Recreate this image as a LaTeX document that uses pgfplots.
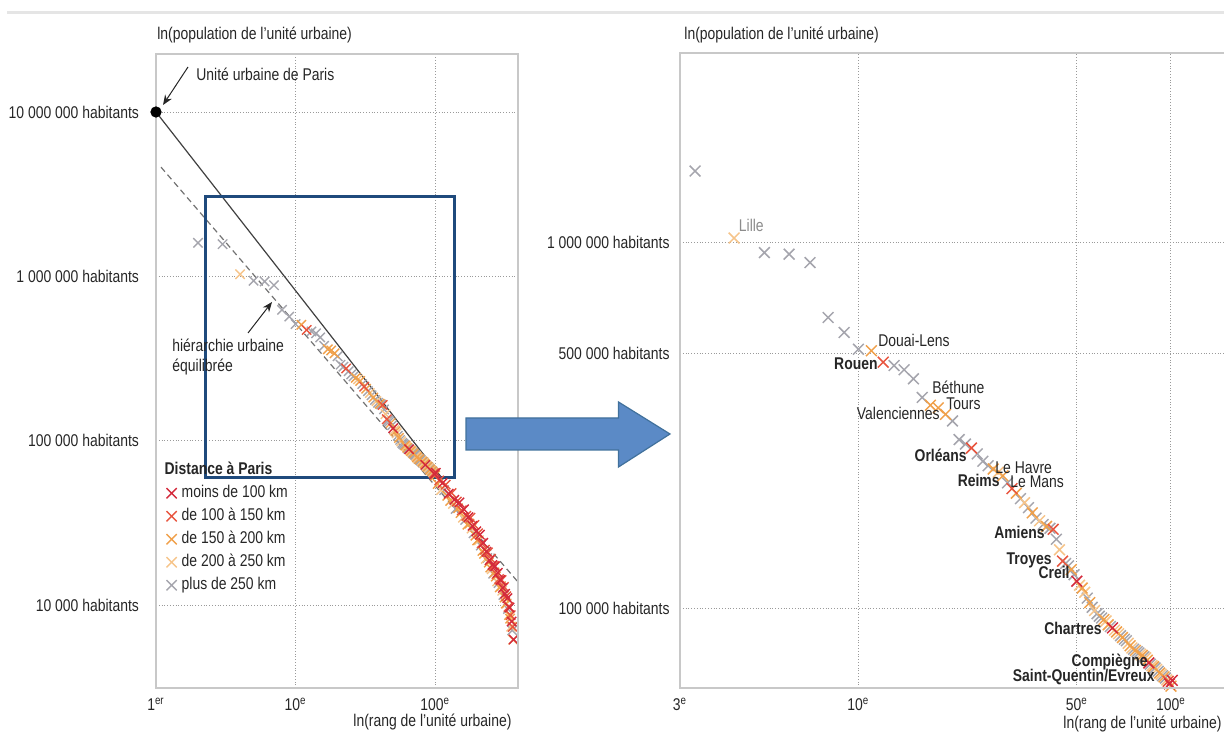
\documentclass[border=0pt]{standalone}
\usepackage{pgfplots}
\pgfplotsset{compat=1.18}
\usepackage{pgfplotstable}
\usetikzlibrary{arrows.meta}
\usepackage{fontspec}
\setmainfont{Liberation Sans}[FakeStretch=0.82]
\definecolor{cA}{HTML}{D42A3C}
\definecolor{cB}{HTML}{E8553F}
\definecolor{cC}{HTML}{F0A04A}
\definecolor{cD}{HTML}{F6C48A}
\definecolor{cE}{HTML}{A5A5AD}
\definecolor{axgray}{HTML}{C8C8C8}
\definecolor{gridgray}{HTML}{9A9A9A}
\definecolor{boxblue}{HTML}{1F4A7C}
\definecolor{arrowfill}{HTML}{5B8AC6}
\definecolor{arrowdraw}{HTML}{41719C}
\definecolor{txt}{HTML}{262626}
\newcommand{\fs}{\fontsize{8.5pt}{10pt}\selectfont}

% moins de 100 km
\pgfplotstableread{
rank pop
50 119000
65 88700
85 71200
99 62400
101 63800
113 55200
125 47600
137 43700
149 42100
161 38200
173 34200
185 30300
197 28100
209 26800
221 23900
233 21100
245 18700
257 17500
269 17200
281 15700
293 14200
305 12700
317 11700
329 11000
341 9660
353 7930
365 6170
}\tabA
% de 100 a 150 km
\pgfplotstableread{
rank pop
12 472000
23 275000
31 213000
42 165000
45 135000
98 63400
107 57300
119 54000
131 48000
143 42600
155 37700
167 34900
179 34000
191 30700
203 27300
215 23700
227 21700
239 20900
251 19100
263 17300
275 15400
287 14400
299 14200
311 12900
323 11300
335 9730
347 8670
359 7360
}\tabB
% de 150 a 200 km
\pgfplotstableread{
rank pop
11 507000
17 360000
18 354000
19 340000
27 241000
29 231000
32 207000
36 183000
40 168000
48 128000
52 114000
55 104000
61 93500
63 90500
67 86500
70 83500
74 79300
77 77000
81 74600
84 72400
88 69500
92 66800
95 65200
100 61500
104 54500
122 46200
128 42900
146 38800
152 36300
170 30800
176 31300
194 26400
200 24700
218 21300
224 20500
242 18100
248 16900
266 15800
272 14900
290 12800
296 13000
314 11100
320 10200
338 8690
344 8260
362 6140
}\tabC
% de 200 a 250 km
\pgfplotstableread{
rank pop
4 1030000
28 236000
34 195000
38 174000
44 145000
51 116000
53 111000
57 99000
62 92700
66 87500
68 85500
73 80500
75 78200
80 75200
83 73500
87 70000
90 68300
93 66300
97 64000
110 50000
134 41200
158 34000
182 29200
206 24800
230 19100
254 16500
278 13900
302 12200
326 10200
350 7380
}\tabD
% plus de 250 km
\pgfplotstableread{
rank pop
2 1600000
3 1570000
5 940000
6 931000
7 883000
8 625000
9 569000
10 512000
13 462000
14 450000
15 425000
16 378000
20 326000
21 290000
22 282000
24 265000
25 253000
26 246000
30 221000
33 200000
35 189000
37 177000
39 170000
41 166000
43 155000
46 133000
47 131000
49 124000
54 107000
56 101000
58 97000
59 95500
60 94400
64 89500
69 84500
71 82600
72 81800
76 77600
78 76400
79 75800
82 74000
86 70600
89 69000
91 67500
94 65700
96 64700
116 50000
140 38400
164 32900
188 27300
212 23000
236 19300
260 15500
284 13600
308 11500
332 9460
356 7010
}\tabE

\begin{document}
\begin{tikzpicture}[font=\fs]
\path[use as bounding box] (0,0) rectangle (612pt,369pt);
\draw[black!10, line width=1.5pt] (3.5pt,362.5pt) -- (612pt,362.5pt);

% ---------------- left panel ----------------
\begin{axis}[
  xmode=log, ymode=log, scale only axis,
  axis line style={draw=none},
  major tick length=0pt, minor tick length=0pt,
  xminorticks=false, yminorticks=false,
  xmajorgrids=true, ymajorgrids=true,
  major grid style={gridgray, densely dotted, line width=0.45pt},
  tick label style={font=\fs, text=txt},
  at={(78pt,25pt)}, anchor=south west,
  width=181pt, height=317pt,
  xmin=1, xmax=392, ymin=3126, ymax=2.254e7,
  clip=false,
  xtick={1,10,100},
  xticklabels={1\textsuperscript{er},10\textsuperscript{e},100\textsuperscript{e}},
  ytick={1e4,1e5,1e6,1e7},
  yticklabels={10 000 habitants,100 000 habitants,1 000 000 habitants,10 000 000 habitants},
  yticklabel style={xshift=-5pt},
  xticklabel style={yshift=-1.5pt},
  legend style={at={(0.029,0.360)}, anchor=north west, draw=none, fill=none,
    font=\fs, inner sep=0pt, outer sep=0pt, row sep=1pt, column sep=1.5pt,
    nodes={inner sep=1pt, text height=6.5pt, text depth=2pt, text=txt}},
  legend cell align=left,
  legend image code/.code={\draw[#1] plot coordinates {(0cm,0cm)};},
]
\addlegendimage{empty legend}\addlegendentry{\hspace*{-8.5pt}\textbf{Distance à Paris}}
\addlegendimage{only marks, mark=x, mark size=3.6pt, line width=0.7pt, cA}\addlegendentry{moins de 100 km}
\addlegendimage{only marks, mark=x, mark size=3.6pt, line width=0.7pt, cB}\addlegendentry{de 100 à 150 km}
\addlegendimage{only marks, mark=x, mark size=3.6pt, line width=0.7pt, cC}\addlegendentry{de 150 à 200 km}
\addlegendimage{only marks, mark=x, mark size=3.6pt, line width=0.7pt, cD}\addlegendentry{de 200 à 250 km}
\addlegendimage{only marks, mark=x, mark size=3.6pt, line width=0.7pt, cE}\addlegendentry{plus de 250 km}

\addplot[forget plot, only marks, mark=x, mark size=3.3pt, line width=0.7pt, cE] table[x=rank,y=pop]{\tabE};
\addplot[forget plot, only marks, mark=x, mark size=3.3pt, line width=0.7pt, cD] table[x=rank,y=pop]{\tabD};
\addplot[forget plot, only marks, mark=x, mark size=3.3pt, line width=0.7pt, cC] table[x=rank,y=pop]{\tabC};
\addplot[forget plot, only marks, mark=x, mark size=3.3pt, line width=0.7pt, cB] table[x=rank,y=pop]{\tabB};
\addplot[forget plot, only marks, mark=x, mark size=3.3pt, line width=0.7pt, cA] table[x=rank,y=pop]{\tabA};

\addplot[forget plot, black!75, line width=0.6pt] coordinates {(1,1e7) (114,5.8e4)};
\addplot[forget plot, black!55, densely dashed, line width=0.6pt] coordinates {(1.086,4.62e6) (392,1.38e4)};
\draw[boxblue, line width=1.5pt] (axis cs:2.27,3.05e6) rectangle (axis cs:136.4,5.93e4);
\end{axis}

% ---------------- right panel ----------------
\begin{axis}[
  xmode=log, ymode=log, scale only axis,
  axis line style={draw=none},
  major tick length=0pt, minor tick length=0pt,
  xminorticks=false, yminorticks=false,
  xmajorgrids=true, ymajorgrids=true,
  major grid style={gridgray, densely dotted, line width=0.45pt},
  tick label style={font=\fs, text=txt},
  at={(340pt,25pt)}, anchor=south west,
  width=272pt, height=317.5pt,
  xmin=2.685, xmax=147.9, ymin=60800, ymax=3.30e6,
  xtick={2.685,10,50,100},
  xticklabels={3\textsuperscript{e},10\textsuperscript{e},50\textsuperscript{e},100\textsuperscript{e}},
  ytick={1e5,5e5,1e6},
  yticklabels={100 000 habitants,500 000 habitants,1 000 000 habitants},
  yticklabel style={xshift=-1.7pt},
  xticklabel style={yshift=-1.5pt},
]
\addplot[only marks, mark=x, mark size=3.8pt, line width=0.75pt, cE] table[x=rank,y=pop]{\tabE};
\addplot[only marks, mark=x, mark size=3.8pt, line width=0.75pt, cD] table[x=rank,y=pop]{\tabD};
\addplot[only marks, mark=x, mark size=3.8pt, line width=0.75pt, cC] table[x=rank,y=pop]{\tabC};
\addplot[only marks, mark=x, mark size=3.8pt, line width=0.75pt, cB] table[x=rank,y=pop]{\tabB};
\addplot[only marks, mark=x, mark size=3.8pt, line width=0.75pt, cA] table[x=rank,y=pop]{\tabA};
\end{axis}

% axis borders
\draw[axgray, line width=1pt] (78pt,25pt) rectangle (259pt,342pt);
\draw[axgray, line width=1pt] (612pt,342.5pt) -- (340pt,342.5pt) -- (340pt,25pt) -- (612pt,25pt);

% Paris point (drawn through the left axis again, on top of the border)
\begin{axis}[
  xmode=log, ymode=log, scale only axis, hide axis,
  at={(78pt,25pt)}, anchor=south west,
  width=181pt, height=317pt,
  xmin=1, xmax=392, ymin=3126, ymax=2.254e7,
  clip=false,
]
\addplot[only marks, mark=*, mark size=2.6pt, mark options={draw=black, fill=black}] coordinates {(1,1e7)};
\end{axis}

% big arrow
\draw[arrowdraw, fill=arrowfill, line width=0.6pt]
  (233pt,160pt) -- (309.25pt,160pt) -- (309.25pt,168pt) -- (335pt,152pt)
  -- (309.25pt,135.5pt) -- (309.25pt,144pt) -- (233pt,144pt) -- cycle;

% axis titles
\node[anchor=west, inner sep=0pt, text=txt] at (78.5pt,351.5pt) {ln(population de l'unité urbaine)};
\node[anchor=west, inner sep=0pt, text=txt] at (342pt,351.5pt) {ln(population de l'unité urbaine)};
\node[anchor=west, inner sep=0pt, text=txt] at (176.5pt,8pt) {ln(rang de l'unité urbaine)};
\node[anchor=west, inner sep=0pt, text=txt] at (531.5pt,7pt) {ln(rang de l'unité urbaine)};

% left annotations
\node[anchor=west, inner sep=0pt, text=txt] at (98pt,332pt) {Unité urbaine de Paris};
\draw[black!85, line width=0.5pt, -{Stealth[length=5pt,width=4pt]}] (94pt,335.5pt) -- (81.5pt,316.5pt);
\node[anchor=west, inner sep=0pt, text=txt] at (86pt,196.5pt) {hiérarchie urbaine};
\node[anchor=west, inner sep=0pt, text=txt] at (86pt,185.5pt) {équilibrée};
\draw[black!85, line width=0.5pt, -{Stealth[length=5pt,width=4pt]}] (124pt,202.5pt) -- (136pt,218pt);

% right annotations
\node[anchor=west, inner sep=0pt, text=black!45] at (369.25pt,256.5pt) {Lille};
\node[anchor=west, inner sep=0pt, text=txt] at (439pt,199pt) {Douai-Lens};
\node[anchor=east, inner sep=0pt, text=txt] at (439pt,187pt) {\textbf{Rouen}};
\node[anchor=west, inner sep=0pt, text=txt] at (466pt,175.5pt) {Béthune};
\node[anchor=west, inner sep=0pt, text=txt] at (473pt,167pt) {Tours};
\node[anchor=east, inner sep=0pt, text=txt] at (470pt,162.5pt) {Valenciennes};
\node[anchor=east, inner sep=0pt, text=txt] at (483.5pt,141.5pt) {\textbf{Orléans}};
\node[anchor=west, inner sep=0pt, text=txt] at (497.5pt,135pt) {Le Havre};
\node[anchor=east, inner sep=0pt, text=txt] at (500pt,129pt) {\textbf{Reims}};
\node[anchor=west, inner sep=0pt, text=txt] at (505pt,128pt) {Le Mans};
\node[anchor=east, inner sep=0pt, text=txt] at (522.5pt,103pt) {\textbf{Amiens}};
\node[anchor=east, inner sep=0pt, text=txt] at (526pt,89pt) {\textbf{Troyes}};
\node[anchor=east, inner sep=0pt, text=txt] at (535pt,83pt) {\textbf{Creil}};
\node[anchor=east, inner sep=0pt, text=txt] at (551pt,55pt) {\textbf{Chartres}};
\node[anchor=east, inner sep=0pt, text=txt] at (574pt,38pt) {\textbf{Compiègne}};
\node[anchor=east, inner sep=0pt, text=txt] at (577.5pt,30.5pt) {\textbf{Saint-Quentin/Evreux}};
\end{tikzpicture}
\end{document}
